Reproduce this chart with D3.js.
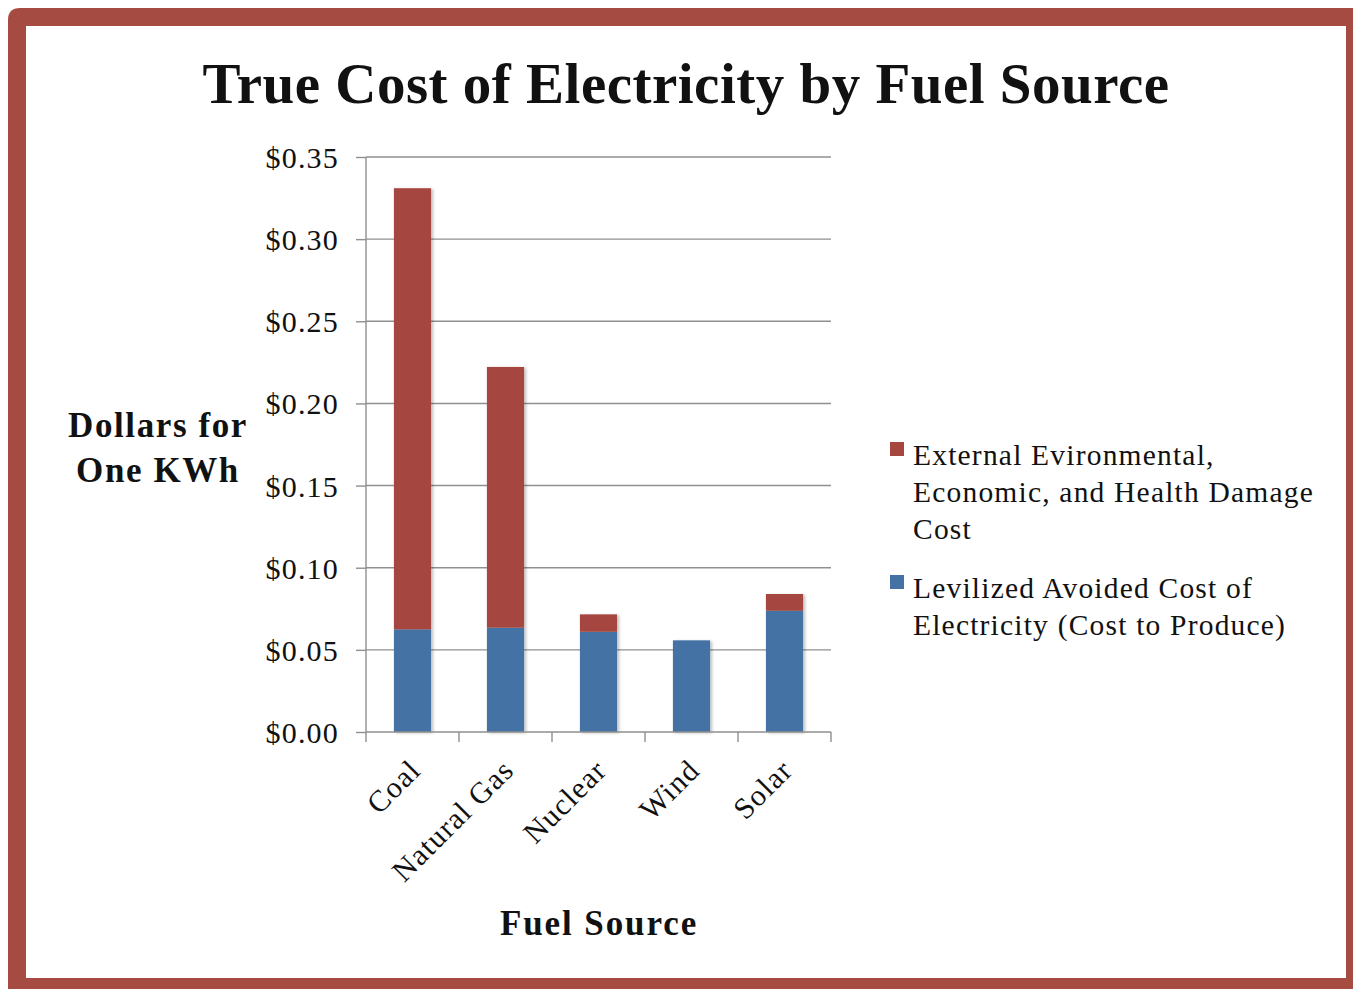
<!DOCTYPE html>
<html>
<head>
<meta charset="utf-8">
<script src="https://cdn.jsdelivr.net/npm/d3@7"></script>
<style>
  html, body { margin: 0; padding: 0; background: #ffffff; }
  svg { display: block; }
  text { font-family: "Liberation Serif", "DejaVu Serif", serif; fill: #111; }
</style>
</head>
<body>
<svg id="chart" width="1353" height="989"></svg>
<script>
// Fuel sources and the two stacked cost components ($ per kWh)
const categories = ["Coal", "Natural Gas", "Nuclear", "Wind", "Solar"];
const produceCost = [0.0625, 0.0635, 0.061, 0.0558, 0.0738];
const externalCost = [0.2685, 0.1587, 0.0106, 0, 0.0102];
const tickValues = [0, 0.05, 0.10, 0.15, 0.20, 0.25, 0.30, 0.35];
const legendLines = [
  ["External Evironmental,", "Economic, and Health Damage", "Cost"],
  ["Levilized Avoided Cost of", "Electricity (Cost to Produce)"]
];
const colors = { produce: "#4572a5", external: "#a5473f" };

const svg = d3.select("#chart");
const W = 1353, H = 989;

// Frame
svg.append("path")
  .attr("d", `M8,20 Q8,8 20,8 L${W},8 L${W},${H} L8,${H} Z`)
  .attr("fill", "#a54b42");
svg.append("rect")
  .attr("x", 26).attr("y", 26)
  .attr("width", 1346 - 26).attr("height", 978 - 26)
  .attr("fill", "#ffffff");

// Soft shadow under bars
const defs = svg.append("defs");
const f = defs.append("filter").attr("id", "shadow")
  .attr("x", "-20%").attr("y", "-20%").attr("width", "140%").attr("height", "140%");
f.append("feDropShadow").attr("dx", 2).attr("dy", 1)
  .attr("stdDeviation", 1.5).attr("flood-color", "#000").attr("flood-opacity", 0.25);

// Plot area
const plot = { left: 366, right: 831, top: 157, bottom: 732 };

const x = d3.scaleBand()
  .domain(categories)
  .range([plot.left, plot.right])
  .paddingInner(0.6)
  .paddingOuter(0.3);

const y = d3.scaleLinear()
  .domain([0, 0.35])
  .range([plot.bottom, plot.top]);

const grid = "#8f8f8f";

// Gridlines + y ticks
const yAxis = d3.axisLeft(y)
  .tickValues(tickValues)
  .tickSize(10)
  .tickPadding(17)
  .tickFormat(d => "$" + d.toFixed(2));

const gy = svg.append("g")
  .attr("transform", `translate(${plot.left},0)`)
  .call(yAxis);
gy.select(".domain").remove();
gy.selectAll(".tick line").attr("stroke", grid).attr("stroke-width", 1.4);
gy.selectAll(".tick text")
  .attr("font-size", 30)
  .attr("letter-spacing", 1.2)
  .attr("font-family", "Liberation Serif")
  .attr("fill", "#111")
  .attr("dy", "0.35em");

svg.append("g").selectAll("line")
  .data(tickValues.filter(d => d > 0))
  .join("line")
  .attr("x1", plot.left).attr("x2", plot.right)
  .attr("y1", d => y(d)).attr("y2", d => y(d))
  .attr("stroke", grid).attr("stroke-width", 1.4);

// Stacked bars
const rows = categories.map((c, i) => ({ cat: c, produce: produceCost[i], external: externalCost[i] }));
const stack = d3.stack().keys(["produce", "external"])(rows);

const barG = svg.append("g").attr("filter", "url(#shadow)");
barG.selectAll("g")
  .data(stack)
  .join("g")
  .attr("fill", d => colors[d.key])
  .selectAll("rect")
  .data(d => d.filter(p => p[1] - p[0] > 0))
  .join("rect")
  .attr("x", d => x(d.data.cat))
  .attr("width", x.bandwidth())
  .attr("y", d => y(d[1]))
  .attr("height", d => y(d[0]) - y(d[1]));

// Axis lines
svg.append("line")
  .attr("x1", plot.left).attr("x2", plot.left)
  .attr("y1", plot.top).attr("y2", plot.bottom)
  .attr("stroke", grid).attr("stroke-width", 1.4);

const step = (plot.right - plot.left) / categories.length;
const xTicks = d3.range(categories.length + 1).map(i => plot.left + i * step);
svg.append("line")
  .attr("x1", plot.left).attr("x2", plot.right)
  .attr("y1", plot.bottom).attr("y2", plot.bottom)
  .attr("stroke", grid).attr("stroke-width", 1.4);
svg.append("g").selectAll("line")
  .data(xTicks)
  .join("line")
  .attr("x1", d => d).attr("x2", d => d)
  .attr("y1", plot.bottom).attr("y2", plot.bottom + 10)
  .attr("stroke", grid).attr("stroke-width", 1.4);

// Category labels, rotated
svg.append("g").selectAll("text")
  .data(categories)
  .join("text")
  .attr("transform", d => `translate(${x(d) + x.bandwidth() / 2 + 10},${plot.bottom + 40}) rotate(-45)`)
  .attr("text-anchor", "end")
  .attr("font-size", 30)
  .attr("letter-spacing", 1.2)
  .text(d => d);

// Title
svg.append("text")
  .attr("x", 686).attr("y", 103)
  .attr("text-anchor", "middle")
  .attr("font-size", 57)
  .attr("font-weight", "bold")
  .attr("letter-spacing", 0.5)
  .text("True Cost of Electricity by Fuel Source");

// Axis titles
svg.append("text")
  .attr("x", 158).attr("y", 437)
  .attr("text-anchor", "middle")
  .attr("font-size", 35)
  .attr("font-weight", "bold")
  .attr("letter-spacing", 1.6)
  .selectAll("tspan")
  .data(["Dollars for", "One KWh"])
  .join("tspan")
  .attr("x", 158)
  .attr("dy", (d, i) => i === 0 ? 0 : 45)
  .text(d => d);

svg.append("text")
  .attr("x", 599).attr("y", 935)
  .attr("text-anchor", "middle")
  .attr("font-size", 35)
  .attr("font-weight", "bold")
  .attr("letter-spacing", 1.9)
  .text("Fuel Source");

// Legend
const legendItems = [
  { key: "external", lines: legendLines[0], y: 465 },
  { key: "produce", lines: legendLines[1], y: 598 }
];
const lg = svg.append("g");
legendItems.forEach(item => {
  lg.append("rect")
    .attr("x", 890).attr("y", item.y - 23)
    .attr("width", 14).attr("height", 14)
    .attr("fill", colors[item.key]);
  lg.append("text")
    .attr("x", 913).attr("y", item.y)
    .attr("font-size", 29.5)
    .attr("letter-spacing", 1.2)
    .selectAll("tspan")
    .data(item.lines)
    .join("tspan")
    .attr("x", 913)
    .attr("dy", (d, i) => i === 0 ? 0 : 37)
    .text(d => d);
});
</script>
</body>
</html>
